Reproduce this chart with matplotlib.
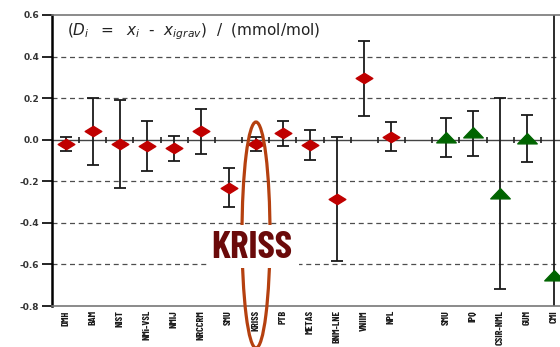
import matplotlib
matplotlib.use("Agg")
import matplotlib.pyplot as plt
from matplotlib.patches import Ellipse, Rectangle
from matplotlib.path import Path
import numpy as np

# red diamonds: first group of labs, slot index on the x axis
labs_red = ["DMH", "BAM", "NIST", "NMi-VSL", "NMIJ", "NRCCRM", "SMU", "KRISS",
            "PTB", "METAS", "BNM-LNE", "VNIIM", "NPL"]
pos_red = [0, 1, 2, 3, 4, 5, 6, 7, 8, 9, 10, 11, 12]
d_red = [-0.02, 0.04, -0.02, -0.03, -0.04, 0.04, -0.23, -0.02,
         0.03, -0.025, -0.285, 0.295, 0.015]
u_red = [0.035, 0.16, 0.21, 0.12, 0.06, 0.11, 0.095, 0.035,
         0.06, 0.072, 0.30, 0.18, 0.068]

# green triangles: second group (slot 13 left empty)
labs_green = ["SMU", "IPQ", "CSIR-NML", "GUM", "CMI"]
pos_green = [14, 15, 16, 17, 18]
d_green = [0.01, 0.03, -0.26, 0.005, -0.655]
u_green = [0.095, 0.11, 0.46, 0.113, 1.27]

yticks = [0.6, 0.4, 0.2, 0.0, -0.2, -0.4, -0.6, -0.8]
grid_y = [0.4, 0.2, -0.2, -0.4, -0.6]

narrow = ["Barlow Condensed", "DejaVu Sans"]

fig = plt.figure(figsize=(5.6, 3.47), dpi=100)
ax = fig.add_axes([52 / 560, 1 - 306 / 347, 516 / 560, 291 / 347])

ax.set_xlim(-0.5, 18.5)
ax.set_ylim(-0.8, 0.6)

# dashed grid, solid zero line with little ticks between labs
for y in grid_y:
    ax.axhline(y, color="#4d4d4d", lw=0.9, ls=(0, (4, 3)), zorder=1)
ax.axhline(0, color="#444444", lw=1.0, zorder=1)
bounds = np.arange(-0.5, 19, 1.0)
ax.plot(bounds, np.zeros_like(bounds), ls="none", marker="|", ms=4,
        mew=1.2, color="#222222", zorder=1)

diamond = Path([(-1, 0), (0, 0.62), (1, 0), (0, -0.62), (-1, 0)],
               [Path.MOVETO, Path.LINETO, Path.LINETO, Path.LINETO, Path.CLOSEPOLY])
tri = Path([(-1, -0.45), (1, -0.45), (0, 0.6), (-1, -0.45)],
           [Path.MOVETO, Path.LINETO, Path.LINETO, Path.CLOSEPOLY])

ax.errorbar(pos_red, d_red, yerr=u_red, fmt="none", ecolor="#1a1a1a",
            elinewidth=1.3, capsize=4, capthick=1.3, zorder=2)
ax.plot(pos_red, d_red, ls="none", marker=diamond, ms=12,
        color="#c00000", mec="#c00000", zorder=3)

ax.errorbar(pos_green, d_green, yerr=u_green, fmt="none", ecolor="#1a1a1a",
            elinewidth=1.3, capsize=4, capthick=1.3, zorder=2)
ax.plot(pos_green, d_green, ls="none", marker=tri, ms=14,
        color="#006400", mec="#006400", zorder=3)

# spines
for s in ["top", "bottom"]:
    ax.spines[s].set_color("#777777")
    ax.spines[s].set_linewidth(1.2)
ax.spines["right"].set_visible(False)
ax.spines["left"].set_color("black")
ax.spines["left"].set_linewidth(1.8)

ax.set_yticks(yticks)
ax.set_yticklabels(["%.1f" % v for v in yticks], fontsize=6.5,
                   fontweight="bold", color="#333333")
ax.tick_params(axis="y", length=7, width=1.2, color="black", pad=2)

ax.set_xticks(pos_red + pos_green)
ax.set_xticklabels(labs_red + labs_green, rotation=90, fontsize=7.3,
                   fontweight="bold", family=narrow, va="top", color="#1a1a1a")
ax.tick_params(axis="x", length=0, pad=3)

ax.text(15 / 516, 1 - 20 / 291,
        r"$(D_i\ \ =\ \ x_i$  -  $x_{i\mathit{grav}})$  /  (mmol/mol)",
        transform=ax.transAxes, fontsize=11, ha="left", va="baseline",
        color="#222222")

# KRISS highlight
ell = Ellipse((256 / 560, 1 - 235 / 347), 28 / 560, 226 / 347,
              transform=fig.transFigure, fill=False, ec="#b5400f", lw=2.3,
              clip_on=False, zorder=5)
fig.add_artist(ell)
fig.add_artist(Rectangle((207 / 560, 1 - 268 / 347), 92 / 560, 43 / 347,
                         transform=fig.transFigure, fc="white", ec="none",
                         zorder=6))
fig.text(252 / 560, 1 - 258 / 347, "KRISS", fontsize=28, fontweight="bold",
         family=narrow, color="#6a0a0a", ha="center", va="baseline", zorder=7)

fig.savefig("out.png", dpi=100)
